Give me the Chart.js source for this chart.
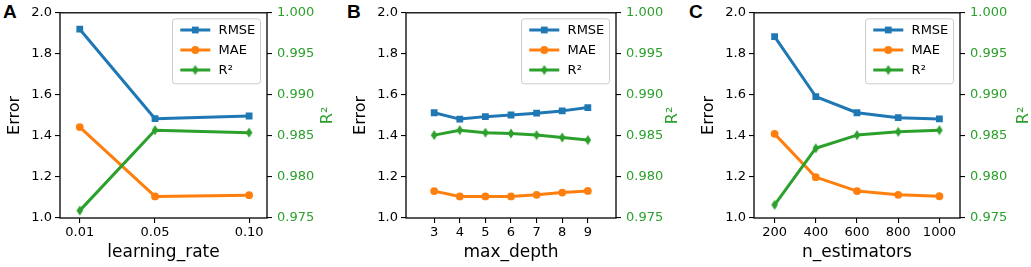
<!DOCTYPE html>
<html>
<head>
<meta charset="utf-8">
<script src="https://cdn.jsdelivr.net/npm/chart.js@4.4.1/dist/chart.umd.min.js"></script>
<style>
body { margin: 0; width: 1031px; height: 267px; overflow: hidden; background: #fff; position: relative; }
canvas { position: absolute; top: 0; }
.tag { position: absolute; top: 2px; font: bold 19px/19px 'Liberation Sans', Arial, sans-serif; color: #000; }
</style>
</head>
<body>
<div class="tag" style="left:3px">A</div>
<div class="tag" style="left:347px">B</div>
<div class="tag" style="left:689px">C</div>
<canvas id="chart_a" width="343" height="267" style="left:0px"></canvas>
<canvas id="chart_b" width="343" height="267" style="left:346px"></canvas>
<canvas id="chart_c" width="337" height="267" style="left:694px"></canvas>
<script>
const series_names = ['RMSE', 'MAE', 'R²']
const error_ticks = [1.0, 1.2, 1.4, 1.6, 1.8, 2.0]
const r2_ticks = [0.975, 0.980, 0.985, 0.990, 0.995, 1.000]

// panel A
const learning_rate = [0.01, 0.05, 0.10]
const learning_rate_labels = ['0.01', '0.05', '0.10']
const rmse_lr = [1.920, 1.484, 1.497]
const mae_lr = [1.443, 1.105, 1.111]
const r2_lr = [0.9759, 0.9857, 0.9854]

// panel B
const max_depth = [3, 4, 5, 6, 7, 8, 9]
const max_depth_labels = ['3', '4', '5', '6', '7', '8', '9']
const rmse_depth = [1.513, 1.482, 1.494, 1.502, 1.511, 1.522, 1.538]
const mae_depth = [1.131, 1.105, 1.105, 1.105, 1.113, 1.124, 1.132]
const r2_depth = [0.9851, 0.9857, 0.9854, 0.9853, 0.9851, 0.9848, 0.9845]

// panel C
const n_estimators = [200, 400, 600, 800, 1000]
const n_estimators_labels = ['200', '400', '600', '800', '1000']
const rmse_est = [1.884, 1.592, 1.513, 1.489, 1.483]
const mae_est = [1.410, 1.199, 1.131, 1.113, 1.106]
const r2_est = [0.9766, 0.9835, 0.9851, 0.9855, 0.9857]

const blue = '#1f77b4'
const orange = '#ff7f0e'
const green = '#2ca02c'

Chart.defaults.font.family = "'DejaVu Sans', sans-serif"
Chart.defaults.font.size = 13
Chart.defaults.color = '#000'

// matplotlib 'd' marker
const thin_diamond = document.createElement('canvas')
thin_diamond.width = 8
thin_diamond.height = 11
{
    const c = thin_diamond.getContext('2d')
    c.fillStyle = green
    c.beginPath()
    c.moveTo(4, 0.5)
    c.lineTo(7.3, 5.5)
    c.lineTo(4, 10.5)
    c.lineTo(0.7, 5.5)
    c.closePath()
    c.fill()
}

const marker_styles = [
    { pointStyle: 'rect', radius: 4.8 },
    { pointStyle: 'circle', radius: 3.9 },
    { pointStyle: thin_diamond, radius: 5 }
]
const colors = [blue, orange, green]

const framePlugin = {
    id: 'frame',
    afterDatasetsDraw(chart) {
        const { ctx, chartArea: a } = chart
        ctx.save()
        ctx.strokeStyle = '#000'
        ctx.lineWidth = 1.3
        ctx.strokeRect(a.left, a.top, a.right - a.left, a.bottom - a.top)
        ctx.restore()
    }
}

const sideTitlePlugin = {
    id: 'sideTitle',
    afterDraw(chart, args, opts) {
        const { ctx, chartArea: a } = chart
        ctx.save()
        ctx.translate(a.right + opts.gap, (a.top + a.bottom) / 2)
        ctx.rotate(-Math.PI / 2)
        ctx.fillStyle = green
        ctx.font = "16px 'DejaVu Sans'"
        ctx.textAlign = 'center'
        ctx.textBaseline = 'middle'
        ctx.fillText('R²', 0, 0)
        ctx.restore()
    }
}

const boxLegendPlugin = {
    id: 'boxLegend',
    afterDraw(chart) {
        const { ctx, chartArea: a } = chart
        const w = 88, h = 65
        const left = a.right - 7 - w
        const top = a.top + 5.5
        ctx.save()
        ctx.fillStyle = 'rgba(255,255,255,0.85)'
        ctx.strokeStyle = '#cccccc'
        ctx.lineWidth = 1
        ctx.beginPath()
        ctx.roundRect(left + 0.5, top + 0.5, w, h, 3)
        ctx.fill()
        ctx.stroke()
        ctx.font = "13px 'DejaVu Sans'"
        ctx.textBaseline = 'middle'
        series_names.forEach((name, i) => {
            const y = top + 11.7 + i * 20
            ctx.strokeStyle = colors[i]
            ctx.lineWidth = 3
            ctx.beginPath()
            ctx.moveTo(left + 8.3, y)
            ctx.lineTo(left + 38.3, y)
            ctx.stroke()
            ctx.fillStyle = colors[i]
            Chart.helpers.drawPoint(ctx, { ...marker_styles[i], rotation: 0, borderWidth: 0 }, left + 23.3, y)
            ctx.fillStyle = '#000'
            ctx.fillText(name, left + 46.6, y + 0.5)
        })
        ctx.restore()
    }
}

function makeSeries(xs, ys, i, axis) {
    return {
        label: series_names[i],
        data: xs.map((x, k) => ({ x: x, y: ys[k] })),
        yAxisID: axis,
        borderColor: colors[i],
        backgroundColor: colors[i],
        pointBackgroundColor: colors[i],
        borderWidth: 3,
        borderJoinStyle: 'round',
        pointStyle: marker_styles[i].pointStyle,
        pointRadius: marker_styles[i].radius,
        pointBorderWidth: 0,
        tension: 0,
        order: 2 - i
    }
}

function drawPanel(id, xs, xLabels, xTitle, rmse, mae, r2, xMin, xMax, plotW, r2Gap) {
    const canvas = document.getElementById(id)
    const rightW = canvas.width - 60 - plotW
    const tickGrid = { drawOnChartArea: false, drawTicks: true, tickLength: 5, color: '#000', lineWidth: 1.1 }
    new Chart(canvas, {
        type: 'line',
        data: {
            datasets: [
                makeSeries(xs, rmse, 0, 'y'),
                makeSeries(xs, mae, 1, 'y'),
                makeSeries(xs, r2, 2, 'y2')
            ]
        },
        options: {
            responsive: false,
            animation: false,
            events: [],
            layout: { padding: { top: 12, left: 0, right: 0, bottom: 0 } },
            plugins: {
                legend: { display: false },
                tooltip: { enabled: false },
                sideTitle: { gap: r2Gap }
            },
            scales: {
                x: {
                    type: 'linear',
                    min: xMin,
                    max: xMax,
                    afterBuildTicks: s => { s.ticks = xs.map(v => ({ value: v })) },
                    afterFit: s => { s.height = 49 },
                    ticks: { callback: (v, i) => xLabels[i], padding: 2, maxRotation: 0, autoSkip: false },
                    grid: tickGrid,
                    border: { display: false },
                    title: { display: true, text: xTitle, font: { size: 17 }, padding: { top: 0, bottom: 4 } }
                },
                y: {
                    position: 'left',
                    min: 1,
                    max: 2,
                    afterBuildTicks: s => { s.ticks = error_ticks.map(v => ({ value: v })) },
                    afterFit: s => { s.width = 60 },
                    ticks: { callback: v => v.toFixed(1), padding: 3 },
                    grid: tickGrid,
                    border: { display: false },
                    title: { display: true, text: 'Error', font: { size: 16 }, padding: { top: 5, bottom: 0 } }
                },
                y2: {
                    position: 'right',
                    min: 0.975,
                    max: 1.0,
                    afterBuildTicks: s => { s.ticks = r2_ticks.map(v => ({ value: v })) },
                    afterFit: s => { s.width = rightW },
                    ticks: { callback: v => v.toFixed(3), padding: 5, color: green },
                    grid: tickGrid,
                    border: { display: false }
                }
            }
        },
        plugins: [framePlugin, sideTitlePlugin, boxLegendPlugin]
    })
}

drawPanel('chart_a', learning_rate, learning_rate_labels, 'learning_rate', rmse_lr, mae_lr, r2_lr, -0.0005, 0.1095, 207, 61)
drawPanel('chart_b', max_depth, max_depth_labels, 'max_depth', rmse_depth, mae_depth, r2_depth, 1.9, 10.1, 210, 57)
drawPanel('chart_c', n_estimators, n_estimators_labels, 'n_estimators', rmse_est, mae_est, r2_est, 100, 1100, 206, 64)
</script>
</body>
</html>
